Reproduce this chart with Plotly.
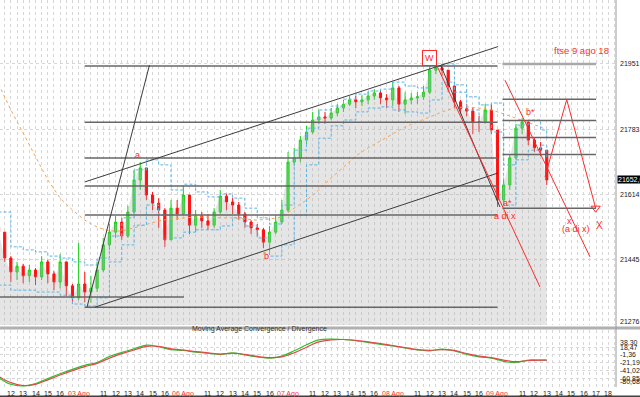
import plotly.graph_objects as go
from plotly.subplots import make_subplots

# ---------------- data ----------------
# 30-minute candles; x is trading hours counted from 02 Ago 09:00 (8.5 h per session)
closes = [21517, 21450, 21414, 21429, 21404, 21419, 21401, 21440, 21409, 21388,
          21440, 21378, 21347, 21383, 21362, 21372, 21419, 21484, 21517, 21543,
          21507, 21569, 21652, 21683, 21613, 21592, 21574, 21497, 21579, 21564,
          21613, 21535, 21559, 21546, 21535, 21569, 21610, 21595, 21587, 21564,
          21543, 21528, 21523, 21491, 21517, 21543, 21574, 21698, 21709, 21755,
          21776, 21807, 21815, 21812, 21825, 21838, 21848, 21859, 21854, 21859,
          21869, 21877, 21864, 21859, 21890, 21848, 21859, 21864, 21867, 21879,
          21936, 21942, 21936, 21895, 21854, 21836, 21830, 21802, 21802, 21833,
          21781, 21600, 21639, 21709, 21786, 21802, 21755, 21735, 21729, 21652]
highs = [21533, 21517, 21455, 21440, 21435, 21432, 21424, 21455, 21445, 21416,
         21460, 21440, 21383, 21489, 21414, 21404, 21440, 21502, 21538, 21559,
         21554, 21585, 21678, 21698, 21683, 21621, 21605, 21579, 21600, 21600,
         21636, 21613, 21574, 21569, 21564, 21579, 21626, 21616, 21605, 21595,
         21569, 21548, 21538, 21528, 21533, 21561, 21600, 21724, 21735, 21766,
         21792, 21828, 21833, 21828, 21838, 21848, 21859, 21869, 21869, 21872,
         21879, 21887, 21885, 21874, 21905, 21895, 21879, 21877, 21879, 21895,
         21947, 21952, 21952, 21936, 21895, 21859, 21848, 21838, 21817, 21848,
         21848, 21781, 21652, 21717, 21797, 21812, 21802, 21760, 21750, 21729]
lows = [21502, 21440, 21388, 21393, 21385, 21388, 21380, 21393, 21385, 21367,
        21372, 21352, 21331, 21341, 21336, 21334, 21362, 21414, 21471, 21502,
        21497, 21502, 21564, 21626, 21600, 21574, 21528, 21479, 21497, 21548,
        21561, 21512, 21517, 21528, 21523, 21528, 21564, 21574, 21564, 21548,
        21528, 21512, 21507, 21476, 21466, 21512, 21538, 21569, 21688, 21698,
        21745, 21771, 21797, 21797, 21807, 21817, 21828, 21843, 21838, 21843,
        21848, 21859, 21848, 21838, 21843, 21828, 21823, 21848, 21848, 21859,
        21874, 21926, 21921, 21879, 21838, 21823, 21817, 21771, 21776, 21797,
        21771, 21582, 21587, 21626, 21704, 21771, 21742, 21724, 21714, 21639]
first_open = 21530
opens = [first_open] + closes[:-1]
bar_x = [2.0 + 0.5 * i for i in range(len(closes))]

# indicator lines, one reading per hour
ind_x = [float(h) for h in range(2, 47)] + [46.5]
ma_slow = [21900, 21833, 21773, 21711, 21652, 21605, 21574, 21548, 21530, 21520,
           21520, 21528, 21538, 21546, 21551, 21554, 21556, 21556, 21554, 21554,
           21551, 21548, 21551, 21556, 21579, 21600, 21626, 21657, 21685, 21714,
           21735, 21753, 21773, 21789, 21802, 21815, 21828, 21838, 21841, 21838,
           21833, 21823, 21812, 21802, 21789, 21781]
band_up = [21569, 21479, 21471, 21466, 21455, 21450, 21440, 21432, 21450, 21507,
           21554, 21678, 21704, 21691, 21626, 21641, 21621, 21608, 21616, 21605,
           21579, 21554, 21538, 21587, 21729, 21786, 21833, 21843, 21861, 21874,
           21882, 21887, 21905, 21895, 21890, 21947, 21952, 21898, 21867, 21846,
           21851, 21691, 21794, 21807, 21781, 21755]
band_dn = [21380, 21367, 21367, 21362, 21362, 21354, 21331, 21326, 21347, 21440,
           21484, 21535, 21587, 21561, 21502, 21517, 21523, 21523, 21533, 21554,
           21533, 21502, 21455, 21484, 21561, 21691, 21760, 21792, 21807, 21828,
           21838, 21841, 21833, 21828, 21825, 21859, 21905, 21879, 21833, 21802,
           21776, 21587, 21704, 21729, 21742, 21711]
macd_main = [-57, -74, -78, -72, -60, -48, -37, -27, -20, -5,
             5, 14, 23, 19, 12, 10, 6, 3, 0, 4,
             -1, -6, -9, -4, 9, 24, 36, 38, 37, 34,
             30, 25, 21, 16, 11, 9, 13, 9, 0, -6,
             -9, -17, -20, -14, -14, -14]
macd_signal = [-54, -70, -77, -74, -63, -51, -40, -30, -22, -9,
               2, 11, 20, 20, 14, 11, 7, 4, 1, 3,
               0, -5, -8, -6, 4, 18, 31, 36, 37, 35,
               31, 27, 22, 17, 12, 10, 12, 10, 2, -4,
               -8, -14, -18, -15, -14, -14]

price_ticks = [21951.9, 21783.0, 21614.1, 21445.3, 21276.4]
macd_ticks = [38.30, 18.47, -1.36, -21.19, -41.02, -60.85, -80.68]
days = ["02 Ago", "03 Ago", "06 Ago", "07 Ago", "08 Ago", "09 Ago"]
day_hours = [[11, 12, 13, 14, 15, 16]] * 5 + [[11, 12, 13, 14, 15, 16, 17, 18]]

# drawn analysis objects (time in hours, price)
levels_left = [21947, 21801, 21709, 21636, 21561, 21323]
levels_left_span = (9.0, 42.5)
levels_right = [21861, 21806, 21762, 21718, 21579]
levels_right_top = 21952
levels_right_span = (42.9, 50.5)
level_base = (21349, 2.1, 17.05)
black_lines = [((9.02, 21647), (42.55, 21997)),
               ((9.83, 21323), (42.55, 21670)),
               ((9.18, 21323), (14.25, 21949)),
               ((37.91, 21947), (42.7, 21582))]
red_lines = [((37.59, 21947), (45.95, 21375)),
             ((43.11, 21910), (50.01, 21453))]
zig_x = [46.36, 48.12, 50.47]
zig_y = [21660, 21860, 21579]
labels = [("a", 13.24, 21716, 9), ("b", 23.71, 21455, 9),
          ("a di x", 43.11, 21559, 9), ("a*", 43.35, 21592, 9),
          ("b*", 45.22, 21828, 9), ("x", 48.33, 21546, 9),
          ("(a di x)", 48.86, 21524, 9), ("X", 50.76, 21535, 10),
          ("ftse 9 ago 18", 49.32, 21988, 9.5)]
w_label = ("W", 37.02, 21967)

# ---------------- figure ----------------
PRICE_RANGE = [21276.8, 22117.4]
MACD_RANGE = [-80.7, 60.6]
X_RANGE = [2.1185, 52.12]
RED = "#ff2a2a"
FONT = "Liberation Sans"

fig = make_subplots(rows=2, cols=1, shared_xaxes=True, vertical_spacing=0.01)

fig.add_trace(go.Scatter(x=bar_x, y=closes, mode="none", fill="tozeroy",
                         fillcolor="rgba(170,170,170,0.3)", hoverinfo="skip",
                         showlegend=False), row=1, col=1)
fig.add_trace(go.Scatter(x=ind_x, y=ma_slow, mode="lines",
                         line=dict(color="#f3a458", width=1, dash="dot"),
                         showlegend=False), row=1, col=1)
for band in (band_up, band_dn):
    fig.add_trace(go.Scatter(x=ind_x, y=band, mode="lines", line_shape="hv",
                             line=dict(color="#5ab6e6", width=1, dash="3px,2px"),
                             showlegend=False), row=1, col=1)
fig.add_trace(go.Candlestick(x=bar_x, open=opens, high=highs, low=lows, close=closes,
                             increasing=dict(line=dict(color="#16d016", width=1),
                                             fillcolor="#30f030"),
                             decreasing=dict(line=dict(color="#ff1010", width=1),
                                             fillcolor="#ff1010"),
                             whiskerwidth=0, showlegend=False, hoverinfo="skip"),
              row=1, col=1)
fig.add_trace(go.Scatter(x=zig_x, y=zig_y, mode="lines",
                         line=dict(color=RED, width=1), showlegend=False), row=1, col=1)
fig.add_trace(go.Scatter(x=[zig_x[-1]], y=[zig_y[-1]], mode="markers",
                         marker=dict(symbol="triangle-down-open", size=8,
                                     color=RED, line=dict(width=1)),
                         showlegend=False), row=1, col=1)

fig.add_trace(go.Scatter(x=ind_x, y=macd_main, mode="lines", line_shape="spline",
                         line=dict(color="#2cc22c", width=1.2), showlegend=False),
              row=2, col=1)
fig.add_trace(go.Scatter(x=ind_x, y=macd_signal, mode="lines", line_shape="spline",
                         line=dict(color="#e04a4a", width=1.2), showlegend=False),
              row=2, col=1)

# level lines
for lv in levels_left:
    fig.add_shape(type="line", xref="x", yref="y", x0=levels_left_span[0],
                  x1=levels_left_span[1], y0=lv, y1=lv,
                  line=dict(color="#666666", width=1.5))
for lv in levels_right:
    fig.add_shape(type="line", xref="x", yref="y", x0=levels_right_span[0],
                  x1=levels_right_span[1], y0=lv, y1=lv,
                  line=dict(color="#666666", width=1.5))
fig.add_shape(type="line", xref="x", yref="y", x0=levels_right_span[0],
              x1=levels_right_span[1], y0=levels_right_top, y1=levels_right_top,
              line=dict(color="#a8a8a8", width=2.5))
fig.add_shape(type="line", xref="x", yref="y", x0=level_base[1], x1=level_base[2],
              y0=level_base[0], y1=level_base[0], line=dict(color="#666666", width=1.5))
for (p0, p1) in black_lines:
    fig.add_shape(type="line", xref="x", yref="y", x0=p0[0], y0=p0[1], x1=p1[0],
                  y1=p1[1], line=dict(color="#3c3c3c", width=1))
for (p0, p1) in red_lines:
    fig.add_shape(type="line", xref="x", yref="y", x0=p0[0], y0=p0[1], x1=p1[0],
                  y1=p1[1], line=dict(color=RED, width=1))

# panel separator, borders
fig.add_shape(type="rect", xref="paper", yref="paper", x0=0, x1=1.04,
              y0=57.5 / 387, y1=60.5 / 387, fillcolor="#b0b0b0", line=dict(width=0))
fig.add_shape(type="line", xref="paper", yref="paper", x0=1, x1=1, y0=0, y1=1,
              line=dict(color="#9a9a9a", width=1))
fig.add_shape(type="line", xref="paper", yref="paper", x0=0, x1=1.04,
              y0=-9.5 / 387, y1=-9.5 / 387, line=dict(color="#404040", width=2))

ann = []
for text, x, y, size in labels:
    ann.append(dict(text=text, x=x, y=y, xref="x", yref="y", showarrow=False,
                    font=dict(family=FONT, size=size, color=RED)))
ann.append(dict(text=w_label[0], x=w_label[1], y=w_label[2], xref="x", yref="y",
                showarrow=False, font=dict(family=FONT, size=9, color=RED),
                bordercolor=RED, borderwidth=1, borderpad=2, bgcolor="white"))

for v in price_ticks:
    yv = max(v, PRICE_RANGE[0] + 8)
    ann.append(dict(text=f"{v:.1f}".replace(".", ","), x=1, y=yv, xref="paper",
                    yref="y", xanchor="left", xshift=2, showarrow=False,
                    font=dict(family=FONT, size=7, color="#202020")))
ann.append(dict(text=f"{closes[-1]:.1f}".replace(".", ","), x=1, y=closes[-1],
                xref="paper", yref="y", xanchor="left", xshift=1, showarrow=False,
                bgcolor="black", borderpad=0,
                font=dict(family=FONT, size=7, color="white")))

for v in macd_ticks:
    yv = min(max(v, -67.6), 29.1)
    ann.append(dict(text=f"{v:.2f}".replace(".", ","), x=1, y=yv, xref="paper",
                    yref="y2", xanchor="left", xshift=2, showarrow=False,
                    font=dict(family=FONT, size=7, color="#202020")))
ann.append(dict(text="Moving Average Convergence / Divergence", x=0.308,
                y=52 / 387, xref="paper", yref="paper", showarrow=False,
                font=dict(family=FONT, size=7, color="#303030")))

for d, (day, hours) in enumerate(zip(days, day_hours)):
    x_day = d * 8.5
    if X_RANGE[0] - 1 <= x_day <= X_RANGE[1]:
        ann.append(dict(text=day, x=x_day, y=0, xref="x", yref="paper",
                        yanchor="top", yshift=-1, showarrow=False,
                        font=dict(family=FONT, size=7, color="#ff3030")))
    for h in hours:
        xh = x_day + (h - 9)
        if X_RANGE[0] - 1 <= xh <= X_RANGE[1]:
            ann.append(dict(text=str(h), x=xh, y=0, xref="x", yref="paper",
                            yanchor="top", yshift=-1, showarrow=False,
                            font=dict(family=FONT, size=7, color="#202020")))

grid = dict(showgrid=True, gridcolor="#d6d6d6", griddash="dot", gridwidth=1)
fig.update_xaxes(range=X_RANGE, dtick=0.5, tick0=0, showticklabels=False,
                 zeroline=False, rangeslider=dict(visible=False), ticks="", **grid)
fig.update_layout(
    width=640, height=397, margin=dict(l=0, r=24, t=0, b=10),
    paper_bgcolor="white", plot_bgcolor="white", showlegend=False,
    annotations=ann, boxgap=0.5,
    yaxis=dict(domain=[62 / 387, 1], range=PRICE_RANGE, tickvals=price_ticks[:4],
               showticklabels=False, zeroline=False, **grid),
    yaxis2=dict(domain=[0, 57 / 387], range=MACD_RANGE, tickvals=macd_ticks[1:6],
                showticklabels=False, zeroline=False, **grid),
    xaxis=dict(rangeslider=dict(visible=False)),
)
fig.write_html("out.html", config={"displayModeBar": False},
               post_script="document.body.style.margin='0px';"
                           "document.body.style.overflow='hidden';")
